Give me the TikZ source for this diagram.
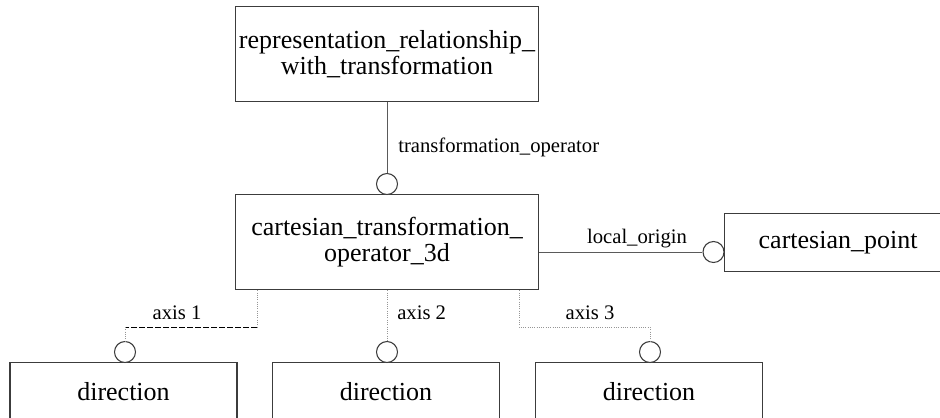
\documentclass[tikz,border=0pt]{standalone}
\usepackage{fontspec}
\setmainfont{Liberation Serif}
\usetikzlibrary{positioning,calc}
\definecolor{linegrey}{RGB}{60,60,60}
\definecolor{conngrey}{RGB}{90,90,90}
\definecolor{dotgrey}{RGB}{150,150,150}

\begin{document}
\begin{tikzpicture}[x=0.75pt, y=-0.75pt,
    entity/.style={rectangle, draw=linegrey, line width=0.9pt, fill=white,
        inner sep=0pt, align=center, font=\fontsize{19.5}{19}\selectfont},
    bigentity/.style={entity, minimum width=227.25pt, minimum height=71.5pt},
    smallentity/.style={entity, minimum width=170.25pt, minimum height=43.5pt},
    ring/.style={circle, draw=linegrey, line width=0.8pt, fill=white,
        minimum size=15.75pt, inner sep=0pt},
    conn/.style={draw=conngrey, line width=0.65pt},
    dotline/.style={draw=dotgrey, line width=0.7pt, densely dotted},
    dashline/.style={draw=black, line width=0.7pt, dash pattern=on 4.5pt off 1.5pt},
    lbl/.style={inner sep=0pt, font=\fontsize{15.5}{18}\selectfont}
]
    \clip (0,0) rectangle (940,418);

    % Entities
    \node[bigentity] (relation) at (387,54)
        {representation\_relationship\_\\with\_transformation};
    \node[bigentity] (operator) at (387,242)
        {cartesian\_transformation\_\\operator\_3d};
    \node[smallentity, anchor=north west] (point) at (724,213) {cartesian\_point};
    \node[smallentity, anchor=north] (dir1) at (123.5,362) {direction};
    \node[smallentity, anchor=north] (dir2) at (386,362) {direction};
    \node[smallentity, anchor=north] (dir3) at (649,362) {direction};

    % Circles
    \node[ring] (ringop) at (387,184) {};
    \node[ring] (ringpt) at (713.5,252) {};
    \node[ring] (ring1) at (125,352) {};
    \node[ring] (ring2) at (387,352) {};
    \node[ring] (ring3) at (650,352) {};

    % Bends of the axis lines
    \coordinate (bend1a) at (257,327);
    \coordinate (bend1b) at (125,327);
    \coordinate (bend3a) at (519,327);
    \coordinate (bend3b) at (650,327);

    % Connectors
    \draw[conn] (relation.south -| ringop) -- (ringop.north);
    \draw[conn] (ringpt -| operator.east) -- (ringpt.west);
    \draw[dotline] (bend1a |- operator.south) -- (bend1a);
    \draw[dashline] (bend1a) -- (bend1b);
    \draw[dotline] (bend1b) -- (ring1.north);
    \draw[dotline] (operator.south -| ring2) -- (ring2.north);
    \draw[dotline] (bend3a |- operator.south) -- (bend3a) -- (bend3b) -- (ring3.north);

    % Labels
    \node[lbl, anchor=base west] (lblop) at (398,152) {transformation\_operator};
    \node[lbl, anchor=base] (lblpt) at (637,243) {local\_origin};
    \node[lbl, anchor=base] (lbl1) at (177,319) {axis 1};
    \node[lbl, anchor=base west] (lbl2) at (397,319) {axis 2};
    \node[lbl, anchor=base] (lbl3) at (590,319) {axis 3};
\end{tikzpicture}
\end{document}
